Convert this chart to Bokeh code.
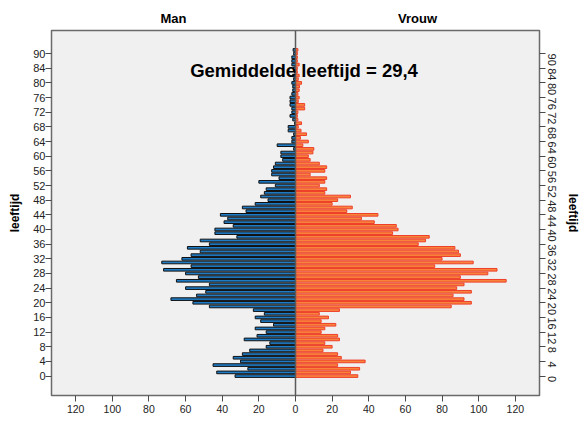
import math
from bokeh.plotting import figure
from bokeh.models import (ColumnDataSource, FixedTicker, LinearAxis, Range1d,
                          Span, Label)
from bokeh.embed import file_html
from bokeh.resources import INLINE

# ---- data -------------------------------------------------------------
ages = [str(a) for a in range(85)] + ["85", "86", "88", "90", "92"]

man = [33, 43, 26, 45, 30, 34, 29, 25, 16, 14,
       28, 21, 16, 22, 12, 19, 22, 17, 23, 47,
       56, 68, 54, 49, 60, 47, 65, 53, 60, 72,
       57, 73, 62, 57, 52, 59, 47, 52, 32, 44,
       44, 34, 39, 37, 41, 27, 29, 22, 15, 19,
       17, 16, 11, 20, 9, 13, 13, 12, 11, 7,
       8, 8, 1, 10, 2, 2, 1, 4, 4, 0.5,
       1.5, 3, 2, 2, 3, 3, 3, 2, 1.5, 1.5,
       2, 1, 1.5, 0.5, 1, 2, 2, 2, 1, 1.3]

vrouw = [34, 30, 35, 23, 38, 25, 23, 15, 20, 16,
         24, 23, 14, 16, 22, 14, 18, 13, 24, 85,
         96, 92, 86, 96, 88, 92, 115, 90, 105, 110,
         76, 97, 80, 90, 89, 87, 67, 71, 73, 53,
         56, 55, 43, 36, 45, 28, 31, 20, 23, 30,
         16, 17, 13, 16, 17, 8, 16, 17, 13, 8,
         7, 9.5, 10, 4, 7, 2.7, 6, 3, 1.5, 3.3,
         1.3, 1, 1.3, 5, 5, 1.5, 2, 1.3, 2, 2.2,
         3.3, 1.5, 2, 1, 1, 2, 1, 1, 1, 1.3]

age_tick_labels = ["0", "4", "8", "12", "16", "20", "24", "28", "32", "36",
                   "40", "44", "48", "52", "56", "60", "64", "68", "72",
                   "76", "80", "84", "90"]
x_tick_values = [-120, -100, -80, -60, -40, -20, 0, 20, 40, 60, 80, 100, 120]
group_labels = ["Man", "Vrouw"]
mean_text = "Gemiddelde leeftijd = 29,4"
axis_title = "leeftijd"

# ---- styling ----------------------------------------------------------
FONT = "Liberation Sans"
MAN_FILL = "#1f7bc4"
MAN_LINE = "#111111"
VR_FILL = "#f8843c"
VR_LINE = "#ee3f2a"
TXT = "#222222"

pos = list(range(len(ages)))
src = ColumnDataSource(dict(
    y=pos,
    man_left=[-v for v in man],
    vrouw_right=vrouw,
    zero=[0] * len(ages),
))

X_LO, X_HI = -133.2, 133.2
p = figure(width=584, height=422, output_backend="svg", toolbar_location=None,
           x_range=Range1d(X_LO, X_HI), y_range=Range1d(-5.3, 94.3),
           min_border_left=51, min_border_right=45, min_border_top=30,
           min_border_bottom=27)

p.background_fill_color = "#f0f0f0"
p.border_fill_color = "white"
p.outline_line_color = "#6a6a6a"
p.outline_line_width = 1.5
p.grid.visible = False

p.hbar(y="y", left="man_left", right="zero", height=0.72, source=src,
       fill_color=MAN_FILL, line_color=MAN_LINE, line_width=1)
p.hbar(y="y", left="zero", right="vrouw_right", height=0.72, source=src,
       fill_color=VR_FILL, line_color=VR_LINE, line_width=1)

p.add_layout(Span(location=0, dimension="height", line_color="#5a5a5a",
                  line_width=1.5))

# y ticks (categories every 4th)
y_ticks = [ages.index(t) for t in age_tick_labels]
y_over = {i: t for i, t in zip(y_ticks, age_tick_labels)}

def style_axis(ax, size="11px"):
    ax.axis_line_color = "#6a6a6a"
    ax.major_tick_line_color = "#4a4a4a"
    ax.minor_tick_line_color = None
    ax.major_tick_in = 0
    ax.major_tick_out = 6
    ax.major_label_text_font = FONT
    ax.major_label_text_font_size = size
    ax.major_label_text_color = TXT
    ax.axis_label_text_font = FONT
    ax.axis_label_text_font_style = "bold"
    ax.axis_label_text_font_size = "12px"
    ax.axis_label_text_color = "black"

yl = p.yaxis[0]
yl.ticker = FixedTicker(ticks=y_ticks)
yl.major_label_overrides = y_over
style_axis(yl)
yl.major_label_standoff = 0
yl.axis_label = axis_title
yl.axis_label_standoff = 8

yr = LinearAxis(ticker=FixedTicker(ticks=y_ticks), major_label_overrides=y_over)
style_axis(yr)
yr.major_label_orientation = -math.pi / 2
yr.major_label_standoff = 6
yr.axis_label = axis_title
yr.axis_label_standoff = 3
p.add_layout(yr, "right")

xb = p.xaxis[0]
xb.ticker = FixedTicker(ticks=x_tick_values)
xb.major_label_overrides = {v: str(abs(v)) for v in x_tick_values}
style_axis(xb, "10.5px")
xb.major_label_standoff = 3

xt = LinearAxis(ticker=FixedTicker(ticks=[X_LO / 2, X_HI / 2]),
                major_label_overrides={X_LO / 2: group_labels[0],
                                       X_HI / 2: group_labels[1]})
xt.axis_line_color = None
xt.major_tick_line_color = None
xt.minor_tick_line_color = None
xt.major_tick_out = 0
xt.major_tick_in = 0
xt.major_label_standoff = 5
xt.major_label_text_font = FONT
xt.major_label_text_font_style = "bold"
xt.major_label_text_font_size = "13px"
xt.major_label_text_color = "black"
p.add_layout(xt, "above")

p.add_layout(Label(x=-57.5, y=83.3, text=mean_text, text_font=FONT,
                   text_font_style="bold", text_font_size="18.5px",
                   text_color="black", text_baseline="middle",
                   text_align="left"))

open("out.html", "w").write(file_html(p, INLINE))
